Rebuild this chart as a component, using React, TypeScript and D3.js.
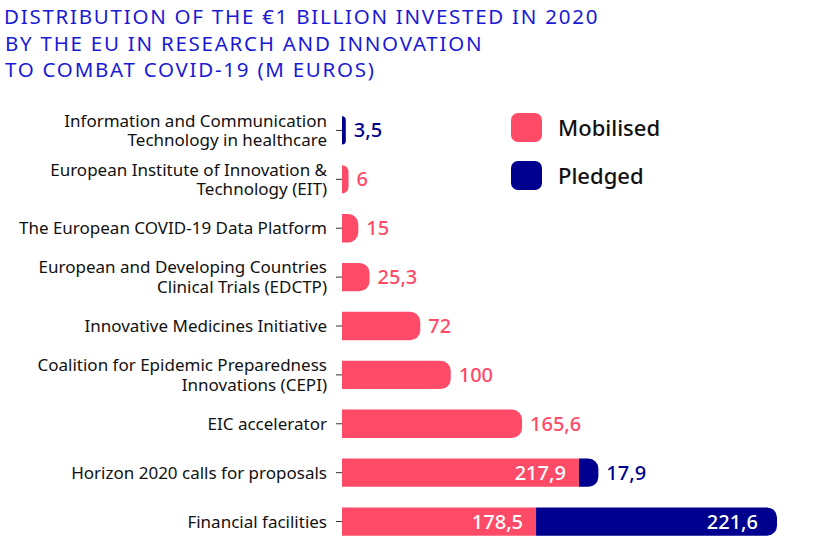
import React from "react";
import * as d3 from "d3";

const titleLines = [
  "DISTRIBUTION OF THE €1 BILLION INVESTED IN 2020",
  "BY THE EU IN RESEARCH AND INNOVATION",
  "TO COMBAT COVID-19 (M EUROS)",
];

const categories = [
  ["Information and Communication", "Technology in healthcare"],
  ["European Institute of Innovation &", "Technology (EIT)"],
  ["The European COVID-19 Data Platform"],
  ["European and Developing Countries", "Clinical Trials (EDCTP)"],
  ["Innovative Medicines Initiative"],
  ["Coalition for Epidemic Preparedness", "Innovations (CEPI)"],
  ["EIC accelerator"],
  ["Horizon 2020 calls for proposals"],
  ["Financial facilities"],
];
const mobilised = [0, 6, 15, 25.3, 72, 100, 165.6, 217.9, 178.5];
const pledged = [3.5, 0, 0, 0, 0, 0, 0, 17.9, 221.6];
const seriesNames = ["Mobilised", "Pledged"];

const PINK = "#ff4b68";
const NAVY = "#00008f";
const TITLE = "#1a1ad4";
const FONT = "'Noto Sans', sans-serif";

const fmt = (v: number) => String(v).replace(".", ",");

export default function App() {
  const W = 820, H = 550;
  const x0 = 342;
  const x = d3.scaleLinear().domain([0, 400.1]).range([x0, 777]);
  const y = d3
    .scaleBand<number>()
    .domain(d3.range(categories.length))
    .range([106, 546])
    .paddingInner(0.42)
    .paddingOuter(0.21);
  const bh = y.bandwidth();

  const barPath = (xa: number, xb: number, yt: number, h: number, rounded: boolean) => {
    const w = xb - xa;
    if (!rounded) return `M${xa},${yt}h${w}v${h}h${-w}Z`;
    const r = Math.min(10, w);
    const p = d3.path();
    p.moveTo(xa, yt);
    p.lineTo(xb - r, yt);
    p.arcTo(xb, yt, xb, yt + r, r);
    p.lineTo(xb, yt + h - r);
    p.arcTo(xb, yt + h, xb - r, yt + h, r);
    p.lineTo(xa, yt + h);
    p.closePath();
    return p.toString();
  };

  return (
    <svg width={W} height={H} style={{ position: "absolute", left: 0, top: 0 }} fontFamily={FONT}>
      <rect width={W} height={H} fill="#fff" />
      {titleLines.map((t, i) => (
        <text key={i} x={i === 0 ? 4 : 5} y={24 + i * 26.5} fill={TITLE} fontSize={20.5} letterSpacing={1.75} fontWeight={400}>
          {t}
        </text>
      ))}
      {categories.map((lines, i) => {
        const yt = y(i)!;
        const cy = yt + bh / 2;
        const m = mobilised[i];
        const p = pledged[i];
        const xm = x(m);
        const xp = x(m + p);
        const both = m > 0 && p > 0;
        const els: React.ReactNode[] = [];
        if (m > 0) els.push(<path key="m" d={barPath(x0, xm, yt, bh, p === 0)} fill={PINK} />);
        if (p > 0) els.push(<path key="p" d={barPath(xm, xp, yt, bh, true)} fill={NAVY} />);
        if (both) {
          els.push(
            <text key="lm" x={xm - 13} y={cy} dy="0.35em" textAnchor="end" fill="#fff" fontSize={20} fontWeight={500}>
              {fmt(m)}
            </text>
          );
          const wide = xp - xm > 70;
          els.push(
            <text key="lp" x={wide ? xp - 19 : xp + 8} y={cy} dy="0.35em" textAnchor={wide ? "end" : "start"} fill={wide ? "#fff" : NAVY} fontSize={20} fontWeight={500}>
              {fmt(p)}
            </text>
          );
        } else {
          const v = m > 0 ? m : p;
          els.push(
            <text key="l" x={xp + 8} y={cy} dy="0.35em" fill={m > 0 ? PINK : NAVY} fontSize={20} fontWeight={500}>
              {fmt(v)}
            </text>
          );
        }
        const lh = 19.5;
        const startY = cy - ((lines.length - 1) * lh) / 2;
        return (
          <g key={i}>
            <line x1={x0 - 6} x2={x0} y1={cy} y2={cy} stroke="#333" strokeWidth={1} />
            {lines.map((l, j) => (
              <text key={j} x={327} y={startY + j * lh} dy="0.35em" textAnchor="end" fill="#111" fontSize={17}>
                {l}
              </text>
            ))}
            {els}
          </g>
        );
      })}
      {seriesNames.map((s, i) => (
        <g key={s} transform={`translate(511,${113 + i * 48})`}>
          <rect width={31} height={29} rx={7} fill={i === 0 ? PINK : NAVY} />
          <text x={47} y={15} dy="0.35em" fontSize={22} fontWeight={500} fill="#111">
            {s}
          </text>
        </g>
      ))}
    </svg>
  );
}
